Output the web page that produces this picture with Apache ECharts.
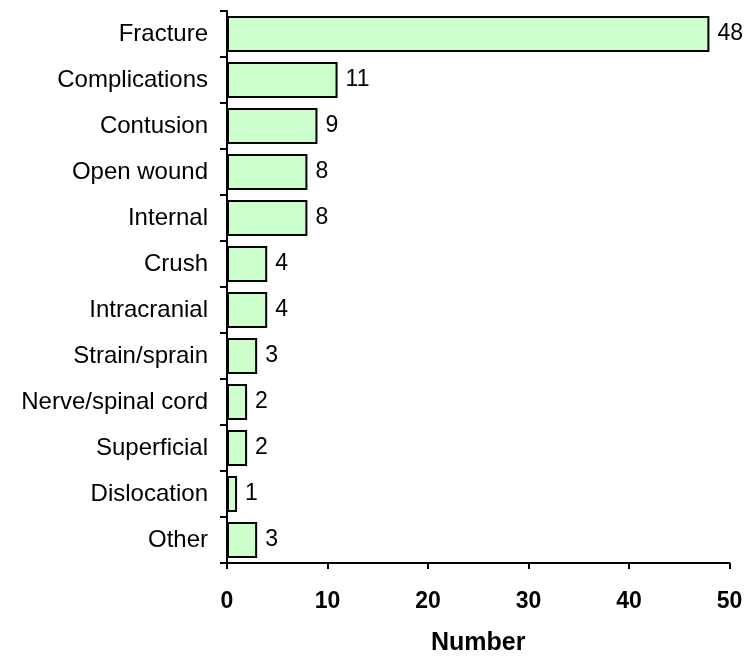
<!DOCTYPE html>
<html>
<head>
<meta charset="utf-8">
<script src="https://cdn.jsdelivr.net/npm/echarts@6/dist/echarts.min.js"></script>
<style>
  html, body { margin: 0; padding: 0; background: #fff; }
  #chart { width: 750px; height: 658px; }
</style>
</head>
<body>
<div id="chart"></div>
<script>
// categories, top to bottom as in the picture
const categories = ["Fracture", "Complications", "Contusion", "Open wound", "Internal",
  "Crush", "Intracranial", "Strain/sprain", "Nerve/spinal cord", "Superficial",
  "Dislocation", "Other"];
const counts = [48, 11, 9, 8, 8, 4, 4, 3, 2, 2, 1, 3];

const myChart = echarts.init(document.getElementById("chart"));
myChart.setOption({
  animation: false,
  textStyle: { fontFamily: "Liberation Sans, Arial, sans-serif" },
  grid: { left: 227, right: 20.5, top: 11, bottom: 95, outerBoundsMode: "none" },
  xAxis: {
    type: "value",
    min: 0,
    max: 50,
    interval: 10,
    name: "Number",
    nameLocation: "middle",
    nameGap: 68,
    nameTextStyle: { fontSize: 25, fontWeight: "bold", color: "#000" },
    splitLine: { show: false },
    axisLine: { show: true, lineStyle: { color: "#000", width: 2 } },
    axisTick: { show: true, length: 6, lineStyle: { color: "#000", width: 2 } },
    axisLabel: { fontSize: 23, fontWeight: "bold", color: "#000", margin: 27 }
  },
  yAxis: {
    type: "category",
    inverse: true,
    data: categories,
    axisLine: { show: true, lineStyle: { color: "#000", width: 2 } },
    axisTick: { show: true, length: 7, lineStyle: { color: "#000", width: 2 } },
    axisLabel: { fontSize: 24, color: "#000", margin: 19 }
  },
  series: [{
    type: "bar",
    data: counts,
    barCategoryGap: "22%",
    itemStyle: { color: "#ccffcc", borderColor: "#000", borderWidth: 2 },
    label: { show: true, position: "right", distance: 8, fontSize: 23, color: "#000" }
  }]
});
</script>
</body>
</html>
